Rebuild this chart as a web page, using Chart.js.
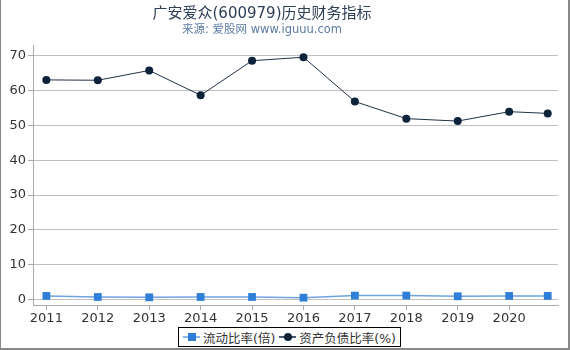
<!DOCTYPE html>
<html>
<head>
<meta charset="utf-8">
<script src="https://cdn.jsdelivr.net/npm/chart.js"></script>
<style>
  html, body { margin: 0; padding: 0; background: #fff; }
  #wrap { position: relative; width: 570px; height: 350px; box-sizing: border-box;
          border-left: 1px solid #888; border-right: 2px solid #888; border-bottom: 2px solid #888; }
  #chart { position: absolute; left: 0; top: 0; }
  .ttl { position: absolute; left: 0; width: 522px; text-align: center; white-space: nowrap;
         font-family: "DejaVu Sans", "Noto Sans CJK SC", sans-serif; }
  #title { top: 1px; font-size: 15px; color: #2e3f55; }
  #subtitle { top: 20px; font-size: 11.5px; color: #5b7ba3; }
  #legend { position: absolute; top: 327px; left: 177px; height: 20px; box-sizing: border-box;
            border: 1px solid #000; padding: 0 4px 0 4px; display: flex; align-items: center;
            font: 12.5px "DejaVu Sans", "Noto Sans CJK SC", sans-serif; color: #333; white-space: nowrap; }
  .item { display: flex; align-items: center; margin-right: 4px; }
  .item:last-child { margin-right: 0; }
  .sym { position: relative; width: 17px; height: 10px; margin-right: 3px; }
  .sym .ln { position: absolute; left: 0; right: 0; top: 4px; height: 2px; }
  .sym .mk { position: absolute; left: 5px; top: 1px; width: 8px; height: 8px; }
</style>
</head>
<body>
<div id="wrap">
  <canvas id="chart" width="567" height="326"></canvas>
  <div class="ttl" id="title">广安爱众(600979)历史财务指标</div>
  <div class="ttl" id="subtitle">来源: 爱股网 www.iguuu.com</div>
  <div id="legend">
    <span class="item"><span class="sym"><span class="ln" style="background:#8fb8ea"></span><span class="mk" style="background:#2f7ed8"></span></span>流动比率(倍)</span>
    <span class="item"><span class="sym"><span class="ln" style="background:#4a5a6e"></span><span class="mk" style="background:#0d233a;border-radius:50%"></span></span>资产负债比率(%)</span>
  </div>
</div>
<script>
// data
var years = [2011, 2012, 2013, 2014, 2015, 2016, 2017, 2018, 2019, 2020, 2020.75];
var currentRatio = [1.1, 0.8, 0.7, 0.8, 0.8, 0.6, 1.2, 1.2, 1.0, 1.1, 1.1];
var debtRatio = [63.0, 62.9, 65.7, 58.6, 68.5, 69.5, 56.8, 51.9, 51.2, 53.9, 53.4];
var xTicks = [2011, 2012, 2013, 2014, 2015, 2016, 2017, 2018, 2019, 2020];
var yTicks = [0, 10, 20, 30, 40, 50, 60, 70];

var font = "'DejaVu Sans', 'Noto Sans CJK SC', sans-serif";

function pts(vals) {
  return vals.map(function (v, i) { return { x: years[i], y: v }; });
}

new Chart(document.getElementById('chart'), {
  type: 'line',
  data: {
    datasets: [
      {
        label: '流动比率(倍)', data: pts(currentRatio),
        borderColor: '#6fa3e3', backgroundColor: '#2f7ed8', borderWidth: 1.5,
        pointStyle: 'rect', pointRadius: 5.5, pointHoverRadius: 5.5, pointBorderWidth: 0
      },
      {
        label: '资产负债比率(%)', data: pts(debtRatio),
        borderColor: '#1f3147', backgroundColor: '#0d233a', borderWidth: 1,
        pointStyle: 'circle', pointRadius: 4, pointHoverRadius: 4, pointBorderWidth: 0
      }
    ]
  },
  options: {
    responsive: false,
    animation: false,
    layout: { padding: { left: 0, right: 10, top: 45, bottom: 0 } },
    plugins: {
      legend: { display: false },
      tooltip: { enabled: false },
      title: { display: false },
      subtitle: { display: false }
    },
    scales: {
      x: {
        type: 'linear', min: 2010.74, max: 2020.95,
        afterBuildTicks: function (s) { s.ticks = xTicks.map(function (v) { return { value: v }; }); },
        afterFit: function (s) { s.height = 21; },
        ticks: {
          color: '#333', font: { family: font, size: 13 }, padding: 1,
          callback: function (v) { return String(v); }, maxRotation: 0, autoSkip: false
        },
        grid: { drawOnChartArea: false, drawTicks: true, tickLength: 5, tickColor: '#aaa' },
        border: { color: '#aaa', width: 1 }
      },
      y: {
        min: -1.5, max: 73,
        afterBuildTicks: function (s) { s.ticks = yTicks.map(function (v) { return { value: v }; }); },
        afterFit: function (s) { s.width = 32; },
        ticks: { color: '#333', font: { family: font, size: 13 }, padding: 2 },
        grid: { color: '#c0c0c0', lineWidth: 1, drawTicks: true, tickLength: 5, tickColor: '#aaa' },
        border: { color: '#aaa', width: 1 }
      }
    }
  }
});
</script>
</body>
</html>
